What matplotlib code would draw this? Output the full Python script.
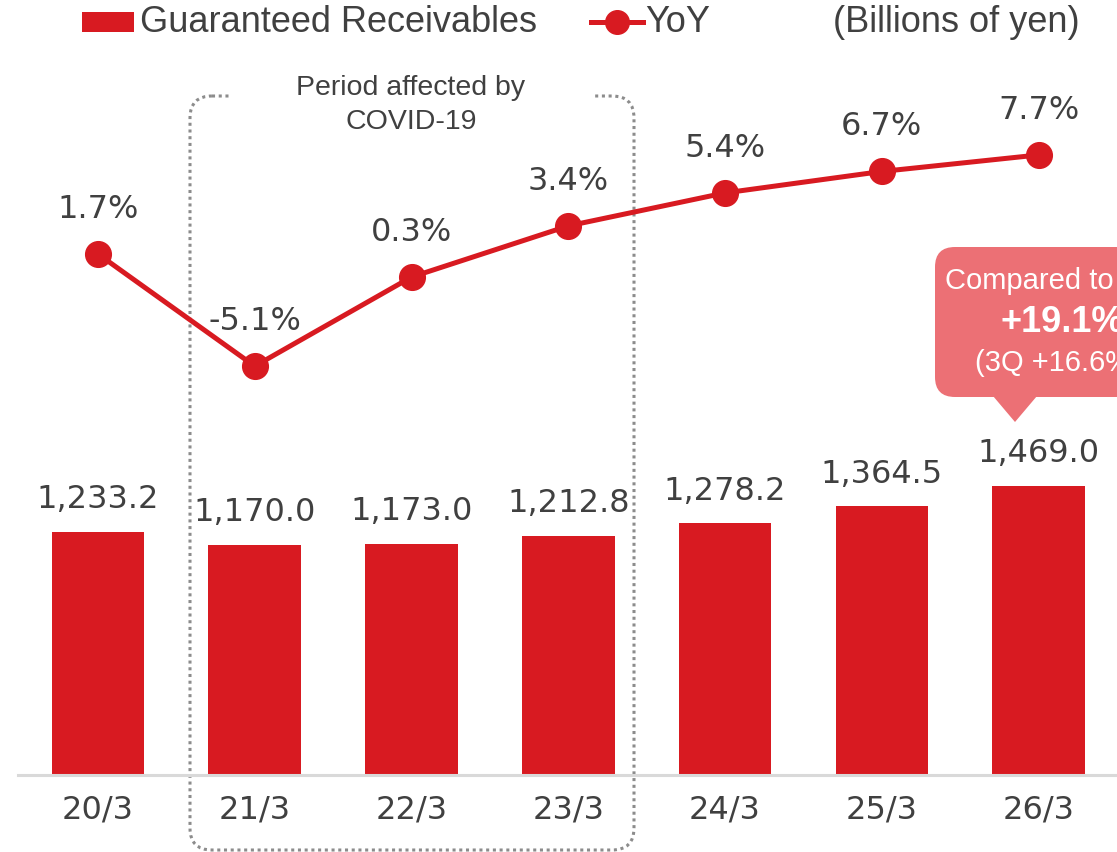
import numpy as np
import matplotlib
matplotlib.use('Agg')
import matplotlib.pyplot as plt
from matplotlib.patches import FancyBboxPatch, Rectangle, Polygon
from matplotlib.lines import Line2D

periods = ['20/3', '21/3', '22/3', '23/3', '24/3', '25/3', '26/3']
receivables = [1233.2, 1170.0, 1173.0, 1212.8, 1278.2, 1364.5, 1469.0]
yoy = [1.7, -5.1, 0.3, 3.4, 5.4, 6.7, 7.7]

RED = '#D81A21'
GRAY_TXT = '#404040'
SANS = ['Liberation Sans', 'DejaVu Sans']
NUM = ['DejaVu Sans']

W, H = 1117, 852
fig = plt.figure(figsize=(W / 100, H / 100), dpi=100)

# overlay in pixel coords (origin top-left) for frame, callout, legend
ov = fig.add_axes([0, 0, 1, 1], zorder=0)
ov.set_xlim(0, W)
ov.set_ylim(H, 0)
ov.set_axis_off()

ax = fig.add_axes([18 / W, 77 / H, (W - 18) / W, 775 / H], zorder=1)
ax.patch.set_alpha(0)
x = np.arange(len(periods))
ax.bar(x, receivables, width=0.59, color=RED, zorder=2)
ax.set_xlim(-0.51, 6.5)
ax.set_ylim(0, 775 / 0.197)
ax.set_xticks(x)
ax.set_xticklabels(periods, fontsize=23, color=GRAY_TXT, family=NUM)
ax.tick_params(axis='x', length=0, pad=14)
ax.set_yticks([])
for s in ['top', 'right', 'left']:
    ax.spines[s].set_visible(False)
ax.spines['bottom'].set_color('#D9D9D9')
ax.spines['bottom'].set_linewidth(2.2)

for xi, v in zip(x, receivables):
    ax.annotate(f'{v:,.1f}', (xi, v), xytext=(0, 17), textcoords='offset points',
                ha='center', va='baseline', fontsize=23, color=GRAY_TXT, family=NUM)

ax2 = ax.twinx()
ax2.set_ylim(-493 / 16.5, 282 / 16.5)
ax2.set_axis_off()
ax2.plot(x, yoy, color=RED, lw=3.6, marker='o', markersize=18.5, zorder=3)
for xi, v in zip(x, yoy):
    ax2.annotate(f'{v:.1f}%', (xi, v), xytext=(0, 26), textcoords='offset points',
                 ha='center', va='baseline', fontsize=23, color=GRAY_TXT, family=NUM)

# COVID period frame
frame = FancyBboxPatch((190, 96), 444, 754, boxstyle='round,pad=0,rounding_size=22',
                       fill=False, edgecolor='#8C8C8C', lw=2.2, linestyle=(0, (1, 1.2)))
ov.add_patch(frame)
ov.add_patch(Rectangle((230, 88), 365, 18, facecolor='white', edgecolor='none'))
ov.text(411, 88, 'Period affected by', ha='center', va='center', fontsize=20.5,
        color=GRAY_TXT, family=SANS)
ov.text(411, 122, 'COVID-19', ha='center', va='center', fontsize=20.5,
        color=GRAY_TXT, family=SANS)

# callout
CALL = '#EC7075'
ov.add_patch(FancyBboxPatch((935, 247), 260, 150, boxstyle='round,pad=0,rounding_size=20',
                            facecolor=CALL, edgecolor='none'))
ov.add_patch(Polygon([(993, 396), (1037, 396), (1015, 422)], closed=True,
                     facecolor=CALL, edgecolor='none'))
ov.text(945, 281, 'Compared to 20/3', ha='left', va='center', fontsize=21,
        color='white', family=SANS)
ov.text(1000, 323, '+19.1%', ha='left', va='center', fontsize=26, fontweight='bold',
        color='white', family=SANS)
ov.text(975, 363, '(3Q +16.6%)', ha='left', va='center', fontsize=21,
        color='white', family=SANS)

# legend
ov.add_patch(Rectangle((82, 12), 52, 20, facecolor=RED, edgecolor='none'))
ov.text(140, 22, 'Guaranteed Receivables', ha='left', va='center', fontsize=26,
        color=GRAY_TXT, family=SANS)
ov.add_line(Line2D([591, 643], [22, 22], color=RED, lw=3.6))
ov.add_line(Line2D([617], [22], color=RED, marker='o', markersize=17))
ov.text(645, 22, 'YoY', ha='left', va='center', fontsize=26, color=GRAY_TXT, family=SANS)
ov.text(1080, 22, '(Billions of yen)', ha='right', va='center', fontsize=26,
        color=GRAY_TXT, family=SANS)

fig.savefig('out.png', dpi=100)
